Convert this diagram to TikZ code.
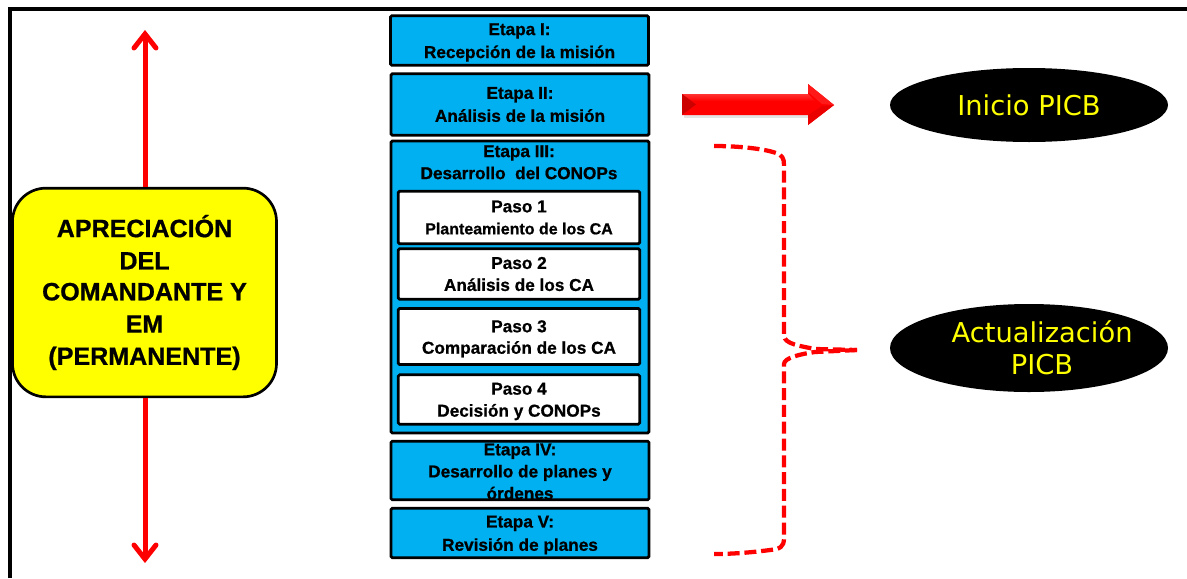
\documentclass[tikz,border=0pt]{standalone}
\usepackage{fontspec}
\setmainfont{Liberation Sans}[BoldFeatures={FakeBold=0.8}]
\newfontfamily\dejavu{DejaVu Sans}
\usetikzlibrary{calc,shapes.geometric}
\definecolor{etapa}{RGB}{0,176,240}
\definecolor{ptyellow}{RGB}{255,255,0}
\definecolor{purered}{RGB}{255,0,0}
\definecolor{darkred}{RGB}{205,0,0}
\newcommand{\shiftdown}[2]{\raisebox{-#1}[\height][\depth]{#2}}
\newcommand{\shiftright}[2]{\makebox[0pt][c]{\hspace{#1}#2}}
\tikzset{
  x=0.75pt,y=-0.75pt,
  boxtext/.style={inner sep=0pt,align=center,font=\bfseries\fontsize{12.9}{16.5}\selectfont},
  etapabox/.style={boxtext,draw=black,line width=2.1pt,fill=etapa,rounded corners=1pt},
  pasobox/.style={boxtext,draw=black,line width=2.1pt,fill=white,rounded corners=1pt},
  picb/.style={ellipse,fill=black,text=ptyellow,inner sep=0pt,font=\dejavu\fontsize{20.5}{24}\selectfont,align=center},
  redshaft/.style={draw=purered,line width=3.75pt},
  redhead/.style={draw=purered,line width=3.75pt,line cap=round,line join=miter},
  bracepath/.style={draw=purered,line width=3.2pt,dash pattern=on 9pt off 3.6pt},
}
\begin{document}
\begin{tikzpicture}
\useasboundingbox (0,0) rectangle (1187,578);
% frame
\coordinate (fa) at (10,578);
\coordinate (fb) at (10,9);
\coordinate (fc) at (1187,9);
\draw[black,line width=2.4pt] (fa) -- (fb) -- (fc);
% commander
\coordinate (up) at (145,34);
\coordinate (down) at (145,559);
\node[draw=black,line width=2pt,fill=ptyellow,rounded corners=25pt,minimum width=198pt,minimum height=156.5pt,inner sep=0pt,align=center,font=\bfseries\fontsize{18.8}{24.2}\selectfont] (apre) at (144.5,292.5) {\raisebox{-1pt}{APRECIACIÓN}\\\raisebox{-1pt}{DEL}\\COMANDANTE Y\\EM\\(PERMANENTE)};
\draw[redshaft] (apre.north -| up) -- (up);
\draw[redshaft] (apre.south -| down) -- (down);
\draw[redhead] ($(up)+(-11,14)$) -- (up) -- ($(up)+(11,14)$);
\draw[redhead] ($(down)+(-11,-14)$) -- (down) -- ($(down)+(11,-14)$);
% stages
\node[etapabox,minimum width=193.5pt,minimum height=37pt] (e1) at (519.5,40.5) {\raisebox{-1.5pt}{\shiftdown{.7pt}{Etapa I:}}\\\raisebox{-.7pt}{\shiftdown{2.2pt}{Recepción de la misión}}};
\node[etapabox,minimum width=193.5pt,minimum height=46pt] (e2) at (520,104.5) {Etapa II:\\[.7pt]Análisis de la misión};
\node[etapabox,minimum width=193.5pt,minimum height=219pt] (e3) at (520,287) {};
\node[boxtext,anchor=north] (e3t) at (519,145) {Etapa III:\\Desarrollo\ \ del CONOPs};
\node[pasobox,minimum width=181pt,minimum height=39.5pt] (p1) at (519,217.5) {Paso 1\\\fontsize{12}{16}\selectfont Planteamiento de los CA};
\node[pasobox,minimum width=181pt,minimum height=38pt] (p2) at (519,274) {Paso 2\\Análisis de los CA};
\node[pasobox,minimum width=181pt,minimum height=42pt] (p3) at (519,336.5) {\shiftdown{1.9pt}{Paso 3}\\\shiftdown{1.5pt}{Comparación de los CA}};
\node[pasobox,minimum width=181pt,minimum height=37pt] (p4) at (519,399.5) {\shiftdown{1.5pt}{Paso 4}\\\shiftdown{1.5pt}{Decisión y CONOPs}};
\node[etapabox,minimum width=193.5pt,minimum height=44pt] (e4) at (520,470.5) {\shiftdown{.8pt}{Etapa IV:}\\\shiftdown{.8pt}{Desarrollo de planes y}\\\shiftdown{.8pt}{órdenes}};
\node[etapabox,minimum width=193.5pt,minimum height=37pt] (e5) at (520,533) {\shiftdown{1.5pt}{Etapa V:}\\[1pt]\shiftdown{1.5pt}{Revisión de planes}};
% ellipses
\node[picb,minimum width=208.5pt,minimum height=55.5pt] (ini) at (1029,105) {Inicio PICB};
\node[picb,minimum width=208.5pt,minimum height=66pt] (act) at (1029,348) {\shiftright{19.5pt}{Actualización}\\\shiftright{19.5pt}{PICB}};
% block arrow
\coordinate (ba) at (682,94);
\coordinate (bb) at (808,94);
\coordinate (bc) at (808,84);
\coordinate (bd) at (834,105);
\coordinate (be) at (808,125);
\coordinate (bf) at (808,115);
\coordinate (bg) at (682,115);
\fill[gray!60,opacity=.35] (684,100) -- (808,100) -- (808,118) -- (684,118) -- cycle;
\fill[purered] (ba) -- (bb) -- (bc) -- (bd) -- (be) -- (bf) -- (bg) -- cycle;
\shade[top color=purered!80!white,bottom color=purered] (ba) -- (bb) -- (815,101) -- (690,101) -- cycle;
\fill[darkred] (ba) -- (696,104.5) -- (bg) -- cycle;
\fill[purered!92!black] (bf) -- (822,106) -- (bd) -- (be) -- cycle;
\fill[purered!90!white] (bc) -- (bd) -- (822,104) -- (808,92) -- cycle;
% brace
\coordinate (bt) at (714,146);
\coordinate (bm) at (857,350);
\coordinate (bl) at (714,554);
\draw[bracepath] (bt) .. controls (740,146) and (765,149) .. (776,153) .. controls (782,155) and (784,158) .. (784,165) -- (784,336) .. controls (785,344) and (800,346) .. (815,349) -- (bm);
\draw[bracepath] (bm) -- (815,352) .. controls (800,354) and (784,358) .. (784,364) -- (784,538) .. controls (784,547) and (780,549) .. (770,550) .. controls (755,552) and (735,554) .. (bl);
\end{tikzpicture}
\end{document}
